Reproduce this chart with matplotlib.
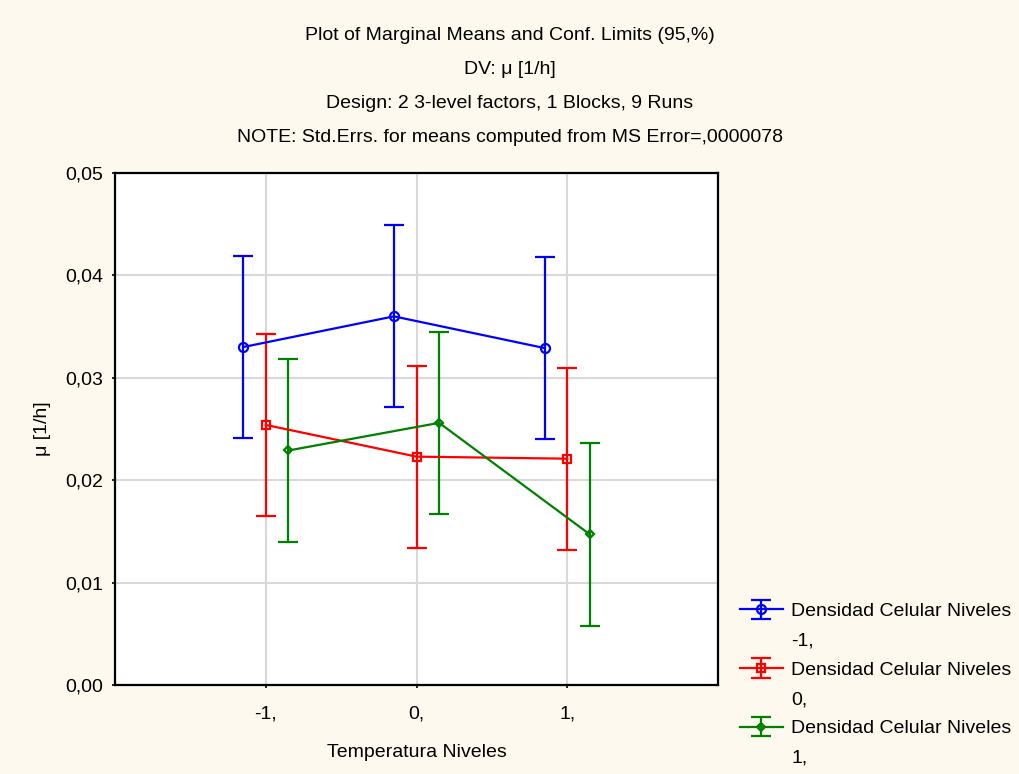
import matplotlib.pyplot as plt
import numpy as np
from matplotlib.ticker import FuncFormatter

plt.rcParams['font.family'] = ['Liberation Sans', 'DejaVu Sans']

# Marginal means and 95% confidence half-widths
temp_levels = [-1, 0, 1]
dens_labels = ["-1,", "0,", "1,"]
means_m1 = [0.0330, 0.0360, 0.0329]
means_0 = [0.0254, 0.0223, 0.0221]
means_p1 = [0.0229, 0.0256, 0.0147]
ci_m1 = [0.0089, 0.0089, 0.0089]
ci_0 = [0.0089, 0.0089, 0.0089]
ci_p1 = [0.0089, 0.0089, 0.0089]

bg = '#fdf9ee'
fig = plt.figure(figsize=(10.2, 7.74), dpi=100, facecolor=bg)
ax = fig.add_axes([0.1127, 0.115, 0.5913, 0.6615])
ax.set_facecolor('white')

series = [
    (means_m1, ci_m1, '#0000ff', 'o', -0.15),
    (means_0, ci_0, '#ff0000', 's', 0.0),
    (means_p1, ci_p1, '#008000', 'D', 0.15),
]
handles = []
x = np.array(temp_levels, dtype=float)
for (m, ci, col, mk, off) in series:
    ms = 6.5 if mk == 'o' else (6 if mk == 's' else 4.5)
    h = ax.errorbar(x + off, m, yerr=ci, color=col, marker=mk, ms=ms,
                    mfc='none', mec=col, mew=1.6, lw=1.6, elinewidth=1.6,
                    capsize=7, capthick=1.6, zorder=3)
    handles.append(h)

ax.set_xlim(-2, 2)
ax.set_ylim(0, 0.05)
ax.set_xticks(temp_levels)
ax.set_xticklabels(["-1,", "0,", "1,"])
ax.set_yticks(np.arange(0, 0.051, 0.01))
ax.yaxis.set_major_formatter(FuncFormatter(lambda v, p: f"{v:.2f}".replace('.', ',')))
ax.grid(True, color='#d8d8d8', lw=1.5)
ax.set_axisbelow(True)
for s in ax.spines.values():
    s.set_linewidth(1.6)
ax.tick_params(labelsize=14, length=2.5, width=1.2, direction='out')
ax.tick_params(axis='x', pad=12)
ax.tick_params(axis='y', pad=6)
ax.set_xlabel("Temperatura Niveles", fontsize=14, labelpad=16)
ax.set_ylabel("μ [1/h]", fontsize=14, labelpad=10)

titles = ["Plot of Marginal Means and Conf. Limits (95,%)",
          "DV: μ [1/h]",
          "Design: 2 3-level factors, 1 Blocks, 9 Runs",
          "NOTE: Std.Errs. for means computed from MS Error=,0000078"]
for i, t in enumerate(titles):
    fig.text(0.5, 1 - (36 + 33.7 * i) / 774, t, ha='center', va='center', fontsize=14)

# Legend: each entry takes two rows, the second holds the level
blank = plt.Line2D([], [], linestyle='none')
leg_h, leg_l = [], []
for h, lab in zip(handles, dens_labels):
    leg_h += [h, blank]
    leg_l += ["Densidad Celular Niveles", lab]
fig.legend(leg_h, leg_l, loc='upper left', bbox_to_anchor=(0.712, 0.239),
           frameon=False, fontsize=14, labelspacing=0.6, handlelength=2.2,
           handletextpad=0.45, borderpad=0.2)

fig.savefig('out.png', dpi=100, facecolor=bg)
